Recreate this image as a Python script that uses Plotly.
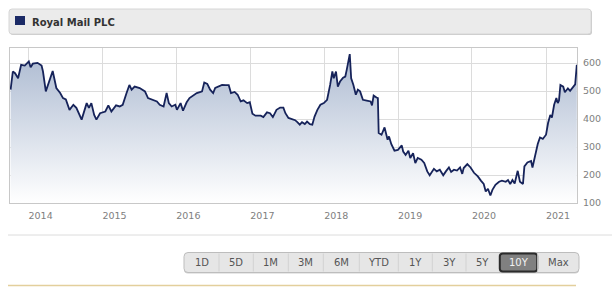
import plotly.graph_objects as go

# ---------------- data ----------------
dates = [
    "2013-10-04", "2013-10-15", "2013-10-26", "2013-11-10", "2013-11-25", "2013-12-13",
    "2014-01-02", "2014-01-11", "2014-01-22", "2014-02-14", "2014-03-06", "2014-03-13",
    "2014-03-27", "2014-04-15", "2014-04-30", "2014-05-18", "2014-06-06", "2014-06-20",
    "2014-07-04", "2014-07-22", "2014-08-10", "2014-08-25", "2014-09-20", "2014-10-15",
    "2014-10-26", "2014-11-07", "2014-11-21", "2014-12-02", "2014-12-20",
    "2015-01-15", "2015-01-30", "2015-02-14", "2015-03-09", "2015-03-27", "2015-04-11",
    "2015-04-30", "2015-05-14", "2015-05-25", "2015-06-09", "2015-07-04", "2015-07-30",
    "2015-08-14", "2015-09-02", "2015-09-09", "2015-09-27", "2015-10-11", "2015-10-30",
    "2015-11-14", "2015-11-25", "2015-12-09", "2015-12-27",
    "2016-01-04", "2016-01-22", "2016-02-03", "2016-02-21", "2016-03-06", "2016-03-27",
    "2016-04-11", "2016-04-30", "2016-05-07", "2016-05-18", "2016-06-02", "2016-06-16",
    "2016-07-01", "2016-07-11", "2016-07-26", "2016-08-14", "2016-09-02", "2016-09-16",
    "2016-09-27", "2016-10-15", "2016-10-30", "2016-11-14", "2016-11-28", "2016-12-16",
    "2016-12-29",
    "2017-01-11", "2017-01-26", "2017-02-21", "2017-03-06", "2017-03-24", "2017-04-08",
    "2017-04-22", "2017-05-10", "2017-05-28", "2017-06-13", "2017-06-23", "2017-07-08",
    "2017-07-26", "2017-08-10", "2017-08-21", "2017-09-02", "2017-09-13", "2017-09-27",
    "2017-10-08", "2017-10-22", "2017-11-03", "2017-11-14", "2017-11-28", "2017-12-13",
    "2017-12-30",
    "2018-01-15", "2018-01-30", "2018-02-10", "2018-02-17", "2018-02-28", "2018-03-09",
    "2018-03-20", "2018-04-04", "2018-04-15", "2018-04-22", "2018-05-07", "2018-05-14",
    "2018-05-25", "2018-06-06", "2018-06-16", "2018-06-27", "2018-07-11", "2018-07-30",
    "2018-08-18", "2018-08-25", "2018-09-02", "2018-09-16", "2018-09-23", "2018-09-27",
    "2018-10-11", "2018-10-26", "2018-11-10", "2018-11-17", "2018-11-28", "2018-12-14",
    "2018-12-31",
    "2019-01-19", "2019-01-26", "2019-02-07", "2019-02-21", "2019-03-02", "2019-03-16",
    "2019-03-27", "2019-04-08", "2019-04-26", "2019-05-10", "2019-05-25", "2019-06-06",
    "2019-06-27", "2019-07-11", "2019-07-26", "2019-08-12", "2019-08-25", "2019-09-09",
    "2019-09-20", "2019-10-04", "2019-10-19", "2019-11-03", "2019-11-14", "2019-11-21",
    "2019-12-09", "2019-12-25",
    "2020-01-11", "2020-01-30", "2020-02-14", "2020-02-28", "2020-03-09", "2020-03-20",
    "2020-04-01", "2020-04-11", "2020-04-26", "2020-05-14", "2020-05-28", "2020-06-16",
    "2020-06-27", "2020-07-08", "2020-07-19", "2020-07-30", "2020-08-14", "2020-08-25",
    "2020-09-09", "2020-09-16", "2020-10-01", "2020-10-19", "2020-10-26", "2020-11-07",
    "2020-11-21", "2020-12-02", "2020-12-16",
    "2021-01-01", "2021-01-11", "2021-01-22", "2021-01-30", "2021-02-10", "2021-02-21",
    "2021-02-28", "2021-03-06", "2021-03-13", "2021-03-27", "2021-04-04", "2021-04-19",
    "2021-04-30", "2021-05-14", "2021-05-25", "2021-06-02",
]
prices = [
    505, 570, 564, 546, 594, 591,
    606, 585, 598, 601, 591, 570,
    499, 540, 572, 511, 493, 475,
    470, 433, 451, 440, 398, 457,
    440, 457, 415, 398, 421,
    427, 449, 427, 449, 445, 451,
    493, 522, 505, 516, 511, 499,
    475, 470, 467, 463, 451, 445,
    493, 457, 445, 451,
    433, 457, 430, 460, 475, 487,
    493, 497, 499, 531, 526, 505,
    493, 511, 516, 522, 521, 521,
    493, 497, 487, 463, 467, 457,
    460,
    419, 412, 412, 407, 424, 421,
    407, 433, 441, 441, 421, 404,
    400, 396, 389, 380, 389, 382,
    391, 382, 380, 409, 433, 451,
    457,
    469, 522, 570, 546, 570, 516,
    534, 548, 552, 576, 632, 546,
    522, 487, 505, 499, 469, 466,
    463, 449, 484, 477, 475, 350,
    344, 370, 326, 338, 311, 287,
    290,
    306, 284, 272, 287, 261, 278,
    243, 261, 255, 243, 213, 199,
    222, 213, 219, 199, 213, 227,
    211, 219, 216, 227, 204, 225,
    239, 227,
    208, 195, 180, 168, 141, 151,
    127, 147, 165, 176, 180, 176,
    182, 168, 182, 170, 215, 176,
    168, 231, 245, 250, 227, 272,
    311, 334, 329,
    344, 386, 415, 405, 451, 475,
    457, 466, 522, 516, 496, 510,
    501, 516, 524, 594,
]
series_name = "Royal Mail PLC"
year_ticks = ["2014-01-01", "2015-01-01", "2016-01-01", "2017-01-01",
              "2018-01-01", "2019-01-01", "2020-01-01", "2021-01-01"]
y_ticks = [100, 200, 300, 400, 500, 600]
range_buttons = ["1D", "5D", "1M", "3M", "6M", "YTD", "1Y", "3Y", "5Y", "10Y", "Max"]
selected_button = "10Y"

# ---------------- layout geometry (pixels) ----------------
W, H = 612, 287
L, R, T, B = 10, 577, 48, 203
PW, PH = R - L, B - T


def fx(x):
    return (x - L) / PW


def fy(y):
    return (B - y) / PH


def rrect(x0, y0, x1, y1, r):
    pts = (f"M {fx(x0 + r)},{fy(y0)} L {fx(x1 - r)},{fy(y0)} "
           f"Q {fx(x1)},{fy(y0)} {fx(x1)},{fy(y0 + r)} "
           f"L {fx(x1)},{fy(y1 - r)} Q {fx(x1)},{fy(y1)} {fx(x1 - r)},{fy(y1)} "
           f"L {fx(x0 + r)},{fy(y1)} Q {fx(x0)},{fy(y1)} {fx(x0)},{fy(y1 - r)} "
           f"L {fx(x0)},{fy(y0 + r)} Q {fx(x0)},{fy(y0)} {fx(x0 + r)},{fy(y0)} Z")
    return pts


FONT = "DejaVu Sans"

fig = go.Figure()
fig.add_trace(go.Scatter(
    x=dates, y=prices, mode="lines", name=series_name,
    line=dict(color="#16235a", width=1.8),
    fill="tozeroy",
    fillgradient=dict(type="vertical", start=100, stop=640,
                      colorscale=[[0, "rgba(255,255,255,1)"],
                                  [1, "rgba(172,186,209,1)"]]),
    hoverinfo="skip",
))

shapes = []
annotations = []

# title bar
shapes.append(dict(type="path", xref="paper", yref="paper",
                   path=rrect(10, 10, 592, 35, 3),
                   fillcolor="#c9c9c9", line=dict(width=0)))
shapes.append(dict(type="path", xref="paper", yref="paper",
                   path=rrect(9, 9, 591, 34, 3),
                   fillcolor="#ebebeb", line=dict(color="#d6d6d6", width=1)))
shapes.append(dict(type="rect", xref="paper", yref="paper",
                   x0=fx(15), x1=fx(25), y0=fy(16), y1=fy(25),
                   fillcolor="#1b2a66", line=dict(width=0)))
annotations.append(dict(text=f"<b>{series_name}</b>", xref="paper", yref="paper",
                        x=fx(30), y=fy(22), xanchor="left", yanchor="middle",
                        showarrow=False, font=dict(family=FONT, size=10, color="#333333")))

# separator lines
shapes.append(dict(type="line", xref="paper", yref="paper",
                   x0=fx(8), x1=fx(612), y0=fy(235), y1=fy(235),
                   line=dict(color="#dcdcdc", width=1)))
shapes.append(dict(type="line", xref="paper", yref="paper",
                   x0=fx(8), x1=fx(576), y0=fy(285.5), y1=fy(285.5),
                   line=dict(color="#e3cf9c", width=1.5)))

# range buttons
edges = [184, 219, 253.3, 288.3, 323.3, 359.3, 398.3, 432.3, 466, 499.3, 537.7, 579]
bt, bb = 252.5, 272.5
shapes.append(dict(type="path", xref="paper", yref="paper",
                   path=rrect(edges[0], bt + 1, edges[-1], bb + 1, 4),
                   fillcolor="#cfcfcf", line=dict(width=0)))
shapes.append(dict(type="path", xref="paper", yref="paper",
                   path=rrect(edges[0], bt, edges[-1], bb, 4),
                   fillcolor="#e6e6e6", line=dict(color="#bdbdbd", width=1)))
for i, lab in enumerate(range_buttons):
    x0, x1 = edges[i], edges[i + 1]
    if i > 0:
        shapes.append(dict(type="line", xref="paper", yref="paper",
                           x0=fx(x0), x1=fx(x0), y0=fy(bt + 1), y1=fy(bb - 1),
                           line=dict(color="#d2d2d2", width=1)))
    col = "#555555"
    if lab == selected_button:
        shapes.append(dict(type="path", xref="paper", yref="paper",
                           path=rrect(x0 + 0.5, bt + 1, x1 - 0.5, bb - 1, 3),
                           fillcolor="#808080", line=dict(color="#2b2b2b", width=2)))
        col = "#f2f2f2"
    annotations.append(dict(text=lab, xref="paper", yref="paper",
                            x=fx((x0 + x1) / 2), y=fy(262.5),
                            xanchor="center", yanchor="middle", showarrow=False,
                            font=dict(family=FONT, size=10, color=col)))

fig.update_layout(
    width=W, height=H,
    margin=dict(l=L, r=W - R, t=T, b=H - B, pad=0),
    paper_bgcolor="white", plot_bgcolor="white",
    showlegend=False,
    shapes=shapes, annotations=annotations,
    xaxis=dict(
        type="date", range=["2013-10-01", "2021-06-03"],
        tickvals=year_ticks, tickformat="%Y",
        showgrid=True, gridcolor="#dcdcdc", gridwidth=1,
        showline=True, linecolor="#c8c8c8", linewidth=1, mirror=True,
        ticks="", ticklabelshift=12, ticklabelstandoff=4,
        tickfont=dict(family=FONT, size=9.5, color="#808080"),
        zeroline=False, fixedrange=True,
    ),
    yaxis=dict(
        range=[100, 654], side="right", tickvals=y_ticks,
        showgrid=True, gridcolor="#dcdcdc", gridwidth=1,
        showline=True, linecolor="#c8c8c8", linewidth=1, mirror=True,
        ticks="", ticklabelstandoff=3,
        tickfont=dict(family=FONT, size=9.5, color="#808080"),
        zeroline=False, fixedrange=True,
    ),
)

fig.write_html("out.html", config=dict(displayModeBar=False))
